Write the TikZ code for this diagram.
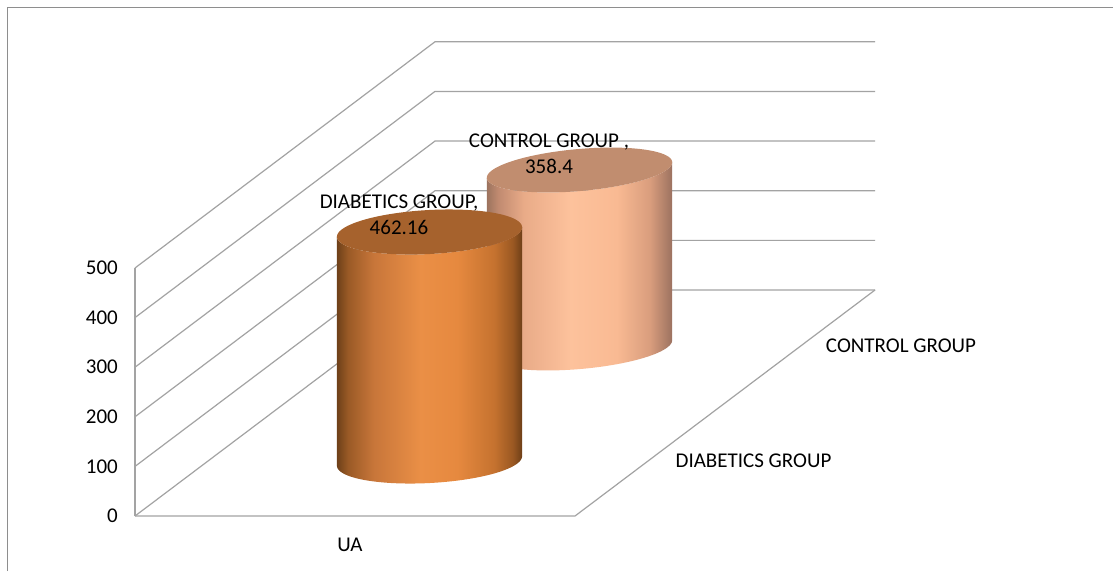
\documentclass[tikz,border=0pt]{standalone}
\usepackage{fontspec}
\setmainfont{Carlito}
\definecolor{gridc}{HTML}{A3A3A3}
\definecolor{framec}{HTML}{8E8E8E}
\definecolor{dA}{HTML}{6E4019}
\definecolor{dB}{HTML}{9A5A26}
\definecolor{dC}{HTML}{C8763A}
\definecolor{dD}{HTML}{EA8F46}
\definecolor{dE}{HTML}{E6893F}
\definecolor{dF}{HTML}{C5722F}
\definecolor{dG}{HTML}{9A5822}
\definecolor{dH}{HTML}{6E3F18}
\definecolor{dTop}{HTML}{A6622D}
\definecolor{cA}{HTML}{9C735E}
\definecolor{cB}{HTML}{C08A70}
\definecolor{cC}{HTML}{E9AB88}
\definecolor{cD}{HTML}{FDC29C}
\definecolor{cE}{HTML}{F9BA93}
\definecolor{cF}{HTML}{D99D7D}
\definecolor{cG}{HTML}{9C7260}
\definecolor{cTop}{HTML}{C18D6F}
\pgfdeclarehorizontalshading{diabside}{100bp}{color(0bp)=(dA); color(25bp)=(dA); color(28bp)=(dB); color(35bp)=(dC); color(47.5bp)=(dD); color(57.5bp)=(dE); color(67.5bp)=(dF); color(72.5bp)=(dG); color(75bp)=(dH); color(100bp)=(dH)}
\pgfdeclarehorizontalshading{ctrlside}{100bp}{color(0bp)=(cA); color(25bp)=(cA); color(28bp)=(cB); color(35bp)=(cC); color(47.5bp)=(cD); color(60bp)=(cE); color(69bp)=(cF); color(75bp)=(cG); color(100bp)=(cG)}
% cylinder: cx, cy (top centre), rx, ry, angle, height, side shading, top colour
\newcommand\mycyl[8]{%
  \shade[shading=#7]
    plot[domain=0:180,samples=60,variable=\t]
      ({#1+#3*cos(\t)*cos(#5)+#4*sin(\t)*sin(#5)},{#2-#3*cos(\t)*sin(#5)+#4*sin(\t)*cos(#5)})
    -- plot[domain=180:0,samples=60,variable=\t]
      ({#1+#3*cos(\t)*cos(#5)+#4*sin(\t)*sin(#5)},{#2+#6-#3*cos(\t)*sin(#5)+#4*sin(\t)*cos(#5)})
    -- cycle;
  \fill[#8]
    plot[domain=0:360,samples=120,variable=\t]
      ({#1+#3*cos(\t)*cos(#5)+#4*sin(\t)*sin(#5)},{#2-#3*cos(\t)*sin(#5)+#4*sin(\t)*cos(#5)})
    -- cycle;
}
\tikzset{
  gridline/.style={draw=gridc, line width=1.2pt},
  frameline/.style={draw=framec, line width=1.5pt},
  lbl/.style={inner sep=0pt, text=black, font=\fontsize{21}{25.7}\selectfont},
}
\begin{document}
\begin{tikzpicture}[x=1pt,y=-1pt]
\useasboundingbox (0,0) rectangle (1113,571);
\fill[white] (0,0) rectangle (1113,571);
% outer frame
\coordinate (fbl) at (7.5,571);
\coordinate (ftl) at (7.5,7.5);
\coordinate (ftr) at (1113,7.5);
\draw[frameline] (fbl) -- (ftl) -- (ftr);
% walls
\foreach \k in {0,...,5}{
  \coordinate (lf\k) at (135,{516-49.6*\k});
  \coordinate (lb\k) at (435,{290-49.65*\k});
  \coordinate (rb\k) at (875,{290-49.65*\k});
  \draw[gridline] (lf\k) -- (lb\k) -- (rb\k);
}
\draw[gridline] (lf0) -- (lf5);
\coordinate (ff) at (575,516);
\draw[gridline] (lf0) -- (ff) -- (rb0);
% cylinders
\mycyl{579.5}{170}{93}{21}{5}{178}{ctrlside}{cTop}
\mycyl{429.5}{232}{92.7}{22}{3.1}{229}{diabside}{dTop}
% tick labels
\node[lbl,anchor=east] (t0) at (118,516) {0};
\node[lbl,anchor=east] (t100) at (118,466.4) {100};
\node[lbl,anchor=east] (t200) at (118,416.8) {200};
\node[lbl,anchor=east] (t300) at (118,367.2) {300};
\node[lbl,anchor=east] (t400) at (118,317.6) {400};
\node[lbl,anchor=east] (t500) at (118,268) {500};
% category labels
\node[lbl] (ua) at (350,545) {UA};
\node[lbl] (sdiab) at (753.5,461) {DIABETICS GROUP};
\node[lbl] (sctrl) at (901,346) {CONTROL GROUP};
% data labels
\node[lbl,anchor=base] (dl1a) at (399,208.5) {DIABETICS GROUP,};
\node[lbl,anchor=base] (dl1b) at (399,234.8) {462.16};
\node[lbl,anchor=base] (dl2a) at (549,147.8) {CONTROL GROUP ,};
\node[lbl,anchor=base] (dl2b) at (549,173.5) {358.4};
\end{tikzpicture}
\end{document}
